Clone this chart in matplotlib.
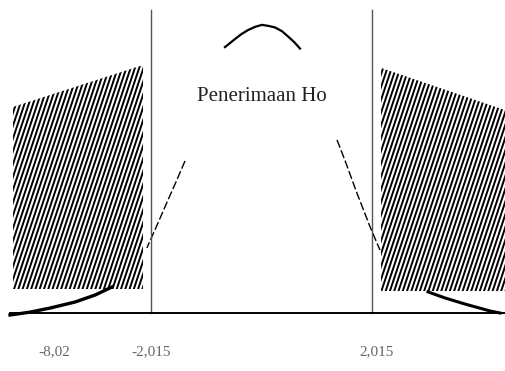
import numpy as np
import matplotlib.pyplot as plt
from matplotlib.patches import Polygon

# critical values and the test statistic
crit = [-2.015, 2.015]
tick_labels = ["-8,02", "-2,015", "2,015"]
tick_pos = [-3.77, -2.015, 2.09]

# curve pieces (t, relative height)
arc_t = [-0.666, -0.574, -0.483, -0.374, -0.246, -0.119, 0.009, 0.137, 0.246, 0.374, 0.483, 0.593, 0.702]
arc_h = [0.920, 0.934, 0.948, 0.964, 0.979, 0.990, 0.997, 0.993, 0.988, 0.975, 0.957, 0.938, 0.915]
lflank_t = [-1.395, -1.56, -1.705, -1.905, -2.09]
lflank_h = [0.526, 0.453, 0.391, 0.304, 0.225]
rflank_t = [1.377, 1.52, 1.74, 1.98, 2.16]
rflank_h = [0.599, 0.529, 0.415, 0.298, 0.218]
ltail_t = [-2.726, -3.036, -3.40, -3.857, -4.22, -4.586]
ltail_h = [0.090, 0.062, 0.038, 0.017, 0.003, -0.007]
rtail_t = [3.036, 3.346, 3.71, 4.167, 4.35]
rtail_h = [0.073, 0.052, 0.031, 0.007, 0.0]

# rejection regions (hatched)
lreg_t = [-4.53, -2.16, -2.16, -4.53]
lreg_h = [0.713, 0.858, 0.083, 0.083]
rreg_t = [2.18, 4.44, 4.44, 2.18]
rreg_h = [0.848, 0.702, 0.076, 0.076]

fig = plt.figure(figsize=(5.05, 3.71), dpi=100)
ax = fig.add_axes([0, 0, 1, 1])
ax.set_xlim(-4.768, 4.440)
ax.set_ylim(-0.2007, 1.083)
ax.axis("off")

# hatching: steep lines clipped to each region
for rt, rh in [(lreg_t, lreg_h), (rreg_t, rreg_h)]:
    poly = Polygon(np.column_stack([rt, rh]), closed=True, fill=False, edgecolor="none")
    ax.add_patch(poly)
    slope = 1.76
    for c in np.arange(min(rt) - 2, max(rt) + 0.1, 0.078):
        ln, = ax.plot([c, c + slope], [0, 1], color="black", lw=1.4, solid_capstyle="butt")
        ln.set_clip_path(poly)

# curve
ax.plot(arc_t, arc_h, color="black", lw=1.6)
ax.plot(lflank_t, lflank_h, color="black", lw=1.0, ls=(0, (6, 2)))
ax.plot(rflank_t, rflank_h, color="black", lw=1.0, ls=(0, (6, 2)))
ax.plot(ltail_t, ltail_h, color="black", lw=2.4)
ax.plot(rtail_t, rtail_h, color="black", lw=2.2)

# critical lines and baseline
for c in crit:
    ax.plot([c, c], [0, 1.048], color="#555555", lw=1.0)
ax.plot([-4.59, 4.44], [0, 0], color="black", lw=1.4)

ax.text(0.0, 0.75, "Penerimaan Ho", ha="center", va="center",
        fontsize=15, family="Liberation Serif", color="#222222")

for p, lab in zip(tick_pos, tick_labels):
    ax.text(p, -0.135, lab, ha="center", va="center", fontsize=11,
            family="Liberation Serif", color="#666666")

fig.savefig("out.png", dpi=100)
